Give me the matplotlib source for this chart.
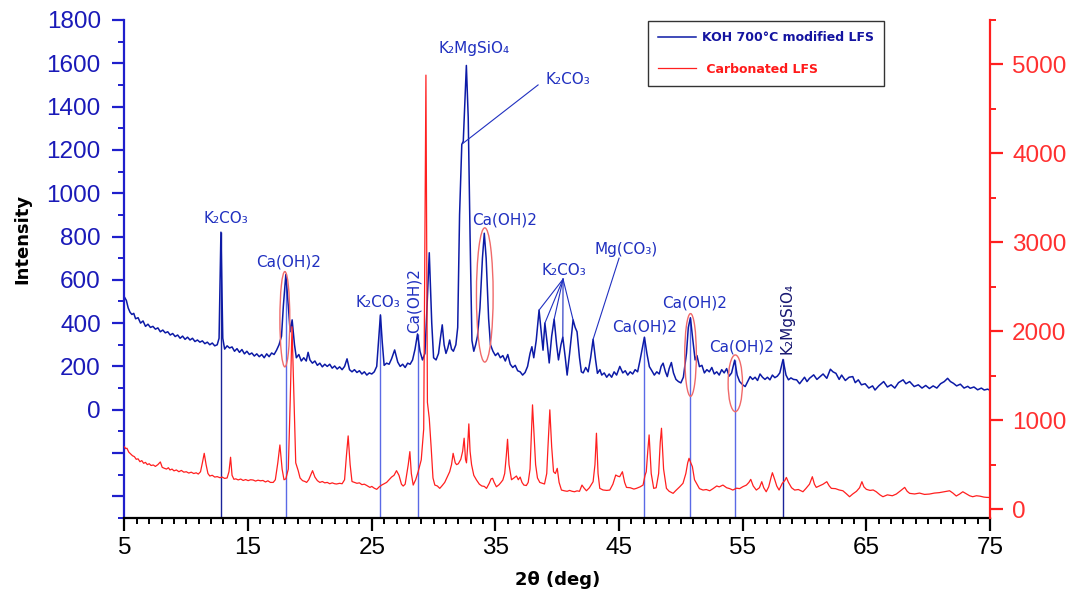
import numpy as np
import matplotlib
matplotlib.use("Agg")
import matplotlib.pyplot as plt
from matplotlib.patches import Ellipse
from matplotlib.ticker import FixedLocator, MultipleLocator, FuncFormatter

# XRD pattern of the KOH 700°C modified LFS (left axis), (2theta, counts)
koh_points = [
    (5.0, 520), (5.15, 505), (5.3, 470), (5.45, 450), (5.6, 440), (5.75, 445), (5.9, 420),
    (6.1, 425), (6.3, 400), (6.5, 410), (6.7, 385), (6.9, 395), (7.1, 380), (7.3, 385),
    (7.5, 372), (7.7, 378), (7.9, 360), (8.1, 368), (8.3, 355), (8.5, 360), (8.7, 345),
    (8.9, 352), (9.1, 338), (9.3, 345), (9.5, 330), (9.7, 340), (9.9, 325), (10.1, 335),
    (10.3, 322), (10.5, 330), (10.7, 315), (10.9, 322), (11.1, 312), (11.3, 318), (11.5, 305),
    (11.7, 312), (11.9, 300), (12.1, 308), (12.3, 295), (12.5, 300), (12.65, 330), (12.8, 820),
    (12.95, 330), (13.1, 280), (13.3, 295), (13.5, 285), (13.7, 290), (13.9, 270), (14.1, 282),
    (14.3, 265), (14.5, 278), (14.7, 258), (14.9, 270), (15.1, 255), (15.3, 262), (15.5, 248),
    (15.7, 258), (15.9, 245), (16.1, 255), (16.3, 240), (16.5, 258), (16.7, 245), (16.9, 262),
    (17.1, 255), (17.3, 275), (17.5, 300), (17.7, 340), (17.85, 480), (18.05, 625), (18.25, 480),
    (18.4, 360), (18.56, 415), (18.75, 300), (18.9, 240), (19.1, 255), (19.3, 225), (19.5, 240),
    (19.7, 225), (19.85, 265), (20.0, 230), (20.2, 215), (20.4, 225), (20.6, 205), (20.8, 215),
    (21.0, 198), (21.2, 210), (21.4, 200), (21.6, 210), (21.8, 192), (22.0, 202), (22.2, 188),
    (22.4, 198), (22.6, 185), (22.8, 200), (23.0, 235), (23.2, 185), (23.4, 175), (23.6, 185),
    (23.8, 172), (24.0, 180), (24.2, 165), (24.4, 175), (24.6, 160), (24.8, 170), (25.0, 165),
    (25.2, 175), (25.4, 200), (25.55, 320), (25.7, 438), (25.85, 310), (26.0, 205), (26.2, 215),
    (26.4, 210), (26.6, 235), (26.85, 276), (27.1, 220), (27.3, 200), (27.5, 210), (27.7, 195),
    (27.9, 215), (28.1, 210), (28.3, 230), (28.5, 280), (28.7, 350), (28.9, 270), (29.1, 230),
    (29.3, 260), (29.45, 450), (29.65, 725), (29.85, 400), (30.0, 240), (30.2, 230), (30.4, 260),
    (30.55, 330), (30.7, 392), (30.85, 300), (31.0, 260), (31.15, 285), (31.3, 322), (31.45, 280),
    (31.6, 270), (31.8, 300), (31.95, 380), (32.1, 900), (32.28, 1225), (32.4, 1240),
    (32.55, 1450), (32.65, 1590), (32.8, 1350), (32.95, 800), (33.1, 320), (33.25, 270),
    (33.4, 300), (33.55, 340), (33.75, 470), (33.95, 700), (34.1, 815), (34.25, 700),
    (34.45, 420), (34.6, 300), (34.8, 270), (35.0, 250), (35.2, 262), (35.4, 240), (35.6, 250),
    (35.8, 225), (36.0, 255), (36.2, 210), (36.4, 195), (36.6, 205), (36.8, 180), (37.0, 175),
    (37.2, 160), (37.4, 172), (37.6, 200), (37.8, 260), (37.95, 291), (38.1, 240), (38.3, 320),
    (38.53, 460), (38.75, 330), (38.85, 275), (39.0, 400), (39.2, 300), (39.35, 216),
    (39.55, 340), (39.75, 418), (39.95, 300), (40.1, 230), (40.3, 300), (40.45, 335),
    (40.65, 240), (40.8, 160), (41.0, 260), (41.28, 415), (41.45, 380), (41.6, 360), (41.8, 240),
    (41.95, 175), (42.1, 170), (42.3, 195), (42.5, 175), (42.7, 240), (42.9, 325), (43.1, 230),
    (43.25, 168), (43.45, 185), (43.6, 160), (43.8, 170), (44.0, 150), (44.2, 165), (44.4, 150),
    (44.6, 175), (44.8, 160), (45.06, 200), (45.3, 170), (45.5, 180), (45.7, 160), (45.9, 175),
    (46.1, 165), (46.3, 185), (46.5, 175), (46.7, 230), (46.9, 290), (47.05, 335), (47.25, 260),
    (47.45, 199), (47.65, 180), (47.85, 160), (48.05, 175), (48.25, 165), (48.4, 200),
    (48.56, 215), (48.75, 175), (48.9, 153), (49.05, 190), (49.23, 218), (49.4, 170),
    (49.6, 140), (49.8, 130), (50.0, 124), (50.2, 150), (50.45, 260), (50.6, 380), (50.77, 425),
    (50.95, 330), (51.15, 230), (51.3, 250), (51.5, 199), (51.7, 205), (51.9, 170), (52.1, 185),
    (52.3, 175), (52.5, 195), (52.7, 165), (52.9, 175), (53.1, 160), (53.3, 185), (53.5, 170),
    (53.7, 190), (53.9, 155), (54.1, 170), (54.35, 229), (54.55, 160), (54.75, 130), (55.0, 115),
    (55.2, 107), (55.4, 130), (55.6, 153), (55.8, 140), (56.0, 150), (56.2, 135), (56.4, 165),
    (56.6, 150), (56.8, 140), (57.0, 150), (57.2, 138), (57.4, 160), (57.6, 148), (57.8, 155),
    (58.0, 170), (58.26, 232), (58.5, 160), (58.7, 138), (58.9, 147), (59.1, 140), (59.36, 138),
    (59.6, 120), (59.8, 135), (60.0, 150), (60.2, 130), (60.4, 145), (60.74, 161), (61.0, 140),
    (61.2, 150), (61.5, 165), (61.8, 145), (62.09, 187), (62.3, 175), (62.54, 168), (62.8, 140),
    (63.0, 160), (63.3, 135), (63.6, 150), (63.9, 153), (64.1, 125), (64.35, 138), (64.6, 115),
    (64.9, 120), (65.2, 100), (65.5, 110), (65.7, 91), (66.0, 110), (66.2, 120), (66.4, 130),
    (66.7, 105), (67.0, 115), (67.3, 100), (67.6, 125), (67.97, 138), (68.2, 120), (68.5, 130),
    (68.87, 107), (69.2, 115), (69.5, 100), (69.8, 112), (70.1, 98), (70.4, 110), (70.7, 100),
    (71.0, 120), (71.3, 130), (71.57, 145), (71.8, 130), (72.04, 122), (72.3, 110), (72.6, 118),
    (72.9, 100), (73.2, 108), (73.4, 99), (73.7, 105), (74.0, 92), (74.3, 100), (74.53, 91),
    (74.8, 95), (75.0, 90),
]

# XRD pattern of the carbonated LFS (right axis), (2theta, counts)
carb_points = [
    (5.0, 700), (5.1, 680), (5.2, 684), (5.35, 640), (5.5, 620), (5.65, 600), (5.8, 590),
    (5.95, 560), (6.1, 565), (6.25, 533), (6.4, 545), (6.55, 515), (6.7, 525), (6.85, 500),
    (7.0, 510), (7.15, 490), (7.33, 496), (7.5, 480), (7.7, 500), (7.9, 530), (8.05, 470),
    (8.2, 460), (8.4, 450), (8.55, 465), (8.68, 440), (8.85, 450), (9.0, 430), (9.2, 440),
    (9.4, 420), (9.6, 435), (9.8, 415), (10.0, 420), (10.2, 405), (10.4, 415), (10.6, 400),
    (10.8, 408), (10.97, 394), (11.15, 420), (11.3, 520), (11.45, 627), (11.6, 500), (11.75, 400),
    (11.9, 372), (12.1, 380), (12.3, 360), (12.5, 365), (12.72, 353), (12.9, 360), (13.1, 345),
    (13.3, 350), (13.45, 420), (13.58, 583), (13.7, 380), (13.85, 335), (14.0, 340), (14.2, 328),
    (14.4, 338), (14.6, 322), (14.8, 332), (15.0, 320), (15.2, 330), (15.4, 327), (15.6, 315),
    (15.8, 325), (16.0, 318), (16.2, 322), (16.4, 305), (16.6, 318), (16.8, 300), (17.03, 300),
    (17.2, 330), (17.4, 520), (17.57, 721), (17.75, 450), (17.9, 330), (18.05, 340), (18.25, 450),
    (18.4, 1200), (18.55, 2050), (18.7, 1300), (18.85, 520), (19.05, 432), (19.2, 350),
    (19.4, 320), (19.6, 310), (19.73, 300), (19.9, 330), (20.05, 380), (20.21, 432), (20.4, 360),
    (20.6, 320), (20.8, 300), (21.0, 310), (21.2, 295), (21.4, 300), (21.6, 285), (21.8, 295),
    (22.0, 285), (22.15, 282), (22.4, 290), (22.6, 285), (22.8, 330), (22.95, 600), (23.09, 823),
    (23.25, 500), (23.4, 310), (23.6, 300), (23.8, 290), (24.0, 295), (24.2, 275), (24.4, 280),
    (24.6, 265), (24.85, 244), (25.0, 255), (25.2, 235), (25.4, 222), (25.6, 250), (25.8, 270),
    (26.0, 285), (26.2, 300), (26.4, 330), (26.6, 360), (26.8, 380), (27.0, 432), (27.2, 380),
    (27.4, 280), (27.54, 259), (27.7, 280), (27.95, 500), (28.08, 646), (28.2, 400), (28.35, 270),
    (28.55, 330), (28.75, 420), (29.0, 553), (29.2, 900), (29.38, 4880), (29.5, 1200),
    (29.65, 1020), (29.8, 700), (29.95, 350), (30.1, 270), (30.3, 260), (30.5, 233), (30.7, 265),
    (30.9, 300), (31.1, 360), (31.3, 420), (31.45, 500), (31.58, 627), (31.75, 520), (31.86, 500),
    (32.0, 510), (32.2, 560), (32.35, 650), (32.47, 797), (32.58, 560), (32.66, 520), (32.75, 700),
    (32.85, 958), (32.95, 650), (33.07, 500), (33.25, 380), (33.47, 327), (33.7, 280),
    (33.9, 260), (34.1, 255), (34.28, 233), (34.5, 290), (34.65, 340), (34.77, 346), (34.9, 300),
    (35.08, 251), (35.3, 275), (35.45, 300), (35.6, 327), (35.75, 400), (35.88, 600),
    (35.98, 785), (36.1, 500), (36.3, 330), (36.5, 350), (36.7, 372), (36.85, 330), (37.0, 360),
    (37.15, 300), (37.3, 270), (37.5, 265), (37.65, 300), (37.8, 450), (37.9, 800), (38.0, 1172),
    (38.1, 900), (38.25, 500), (38.4, 350), (38.59, 300), (38.8, 290), (38.97, 282), (39.15, 400),
    (39.25, 700), (39.4, 1116), (39.55, 700), (39.7, 420), (39.85, 400), (40.0, 458),
    (40.15, 300), (40.34, 214), (40.6, 205), (40.8, 200), (41.0, 210), (41.2, 200), (41.4, 195),
    (41.6, 205), (41.8, 200), (42.0, 270), (42.15, 240), (42.36, 206), (42.6, 240), (42.9, 308),
    (43.05, 500), (43.17, 853), (43.3, 400), (43.44, 233), (43.7, 215), (44.0, 210),
    (44.25, 214), (44.5, 280), (44.73, 383), (44.9, 370), (45.05, 364), (45.27, 420),
    (45.45, 300), (45.6, 244), (45.9, 240), (46.2, 225), (46.4, 233), (46.7, 250), (46.94, 270),
    (47.1, 380), (47.2, 420), (47.32, 650), (47.43, 834), (47.6, 400), (47.8, 233), (48.0, 240),
    (48.2, 400), (48.33, 750), (48.43, 909), (48.6, 450), (48.83, 233), (49.05, 200),
    (49.37, 177), (49.6, 210), (49.9, 250), (50.17, 290), (50.4, 400), (50.55, 520),
    (50.66, 571), (50.8, 520), (50.93, 477), (51.1, 330), (51.26, 290), (51.5, 230),
    (51.79, 214), (52.05, 220), (52.33, 206), (52.6, 230), (52.9, 260), (53.1, 250), (53.4, 270),
    (53.7, 240), (53.95, 230), (54.2, 214), (54.5, 235), (54.75, 230), (55.0, 251), (55.3, 270),
    (55.5, 300), (55.65, 334), (55.85, 260), (56.1, 214), (56.35, 240), (56.54, 308),
    (56.7, 240), (56.9, 195), (57.1, 250), (57.3, 360), (57.4, 409), (57.6, 327), (57.75, 260),
    (57.94, 214), (58.2, 290), (58.4, 320), (58.53, 356), (58.7, 300), (58.95, 240), (59.2, 214),
    (59.5, 220), (59.87, 195), (60.1, 230), (60.4, 280), (60.63, 364), (60.8, 280), (60.95, 244),
    (61.2, 260), (61.5, 280), (61.8, 308), (62.0, 260), (62.17, 233), (62.5, 230), (62.8, 215),
    (63.1, 206), (63.4, 170), (63.64, 139), (63.9, 170), (64.2, 200), (64.45, 240), (64.64, 308),
    (64.8, 250), (65.0, 222), (65.3, 210), (65.55, 215), (65.8, 195), (66.1, 160), (66.34, 139),
    (66.7, 160), (67.1, 150), (67.42, 169), (67.8, 210), (68.1, 244), (68.3, 200), (68.5, 177),
    (68.9, 170), (69.3, 180), (69.7, 165), (70.1, 169), (70.5, 180), (70.9, 185), (71.3, 195),
    (71.73, 206), (72.0, 180), (72.27, 147), (72.55, 170), (72.8, 195), (73.1, 170),
    (73.35, 150), (73.6, 139), (73.9, 150), (74.2, 145), (74.5, 135), (74.7, 132), (75.0, 130),
]

koh_theta, koh_counts = map(np.array, zip(*koh_points))
carb_theta, carb_counts = map(np.array, zip(*carb_points))

# peaks marked with drop lines down to the axis
drop_theta = [12.8, 18.05, 25.7, 28.7, 47.05, 50.77, 54.35, 58.26]
drop_dark = [True, False, False, False, False, False, False, True]

# K2CO3 reflections joined to one label
fan_theta = [38.53, 39.0, 39.75, 40.45, 41.28]

# phase labels: text, 2theta, intensity, rotation
phase_labels = [
    ("K\u2082CO\u2083", 13.2, 881, 0),
    ("Ca(OH)2", 18.3, 680, 0),
    ("K\u2082CO\u2083", 25.5, 493, 0),
    ("Ca(OH)2", 28.45, 505, 90),
    ("K\u2082MgSiO\u2084", 33.3, 1669, 0),
    ("K\u2082CO\u2083", 40.85, 1527, 0),
    ("Ca(OH)2", 35.75, 876, 0),
    ("K\u2082CO\u2083", 40.5, 641, 0),
    ("Mg(CO\u2083)", 45.6, 738, 0),
    ("Ca(OH)2", 47.1, 384, 0),
    ("Ca(OH)2", 51.1, 492, 0),
    ("Ca(OH)2", 54.9, 291, 0),
]

# red rings: centre 2theta, centre intensity, width, height
rings = [
    (17.97, 418, 0.8, 440),
    (34.14, 530, 1.35, 620),
    (50.78, 253, 0.94, 382),
    (54.4, 122, 1.16, 262),
]

blue = "#0c1aa6"
axis_blue = "#1f1fcc"
label_blue = "#2030c0"
red = "#ff1f1f"

plt.rcParams["font.family"] = ["DejaVu Sans"]

fig = plt.figure(figsize=(10.74, 6.0), dpi=100)
ax = fig.add_axes([0.1159, 0.1367, 0.8059, 0.83])
ax2 = ax.twinx()

line_koh, = ax.plot(koh_theta, koh_counts, color=blue, lw=1.1,
                    label="KOH 700\u00b0C modified LFS")
line_carb, = ax2.plot(carb_theta, carb_counts, color=red, lw=0.9,
                      label=" Carbonated LFS")

ax.set_xlim(5, 75)
ax.set_ylim(-500, 1800)
ax2.set_ylim(-100, 5500)

# drop lines from the peak tops
for t, dark in zip(drop_theta, drop_dark):
    top = np.interp(t, koh_theta, koh_counts)
    ax.vlines(t, -500, top, color="#1a2399" if dark else "#5a6ae6", lw=1.0, zorder=1)

# K2CO3 shoulder on the main peak
ax.plot([32.39, 38.45], [1231, 1500], color=label_blue, lw=0.8)
# fan of K2CO3 lines
for t in fan_theta:
    ax.plot([40.47, t], [603, np.interp(t, koh_theta, koh_counts)], color=label_blue, lw=0.8)
# Mg(CO3) pointer
ax.plot([42.9, 45.0], [325, 700], color=label_blue, lw=0.8)

for text, x, y, rot in phase_labels:
    ax.text(x, y, text, color=label_blue, fontsize=11, rotation=rot,
            ha="center", va="center")
ax.text(58.6, 422, "K\u2082MgSiO\u2084", color="#161670", fontsize=11, rotation=90,
        ha="center", va="center")

for cx, cy, w, h in rings:
    ax.add_patch(Ellipse((cx, cy), w, h, fill=False, edgecolor="#f06a6a", lw=1.0, zorder=4))

# axes styling
ax.spines["top"].set_visible(False)
ax2.spines["top"].set_visible(False)
ax2.spines["left"].set_visible(False)
ax2.spines["bottom"].set_visible(False)
ax.spines["right"].set_visible(False)
ax.spines["left"].set_color(axis_blue)
ax.spines["left"].set_linewidth(1.6)
ax.spines["bottom"].set_color("black")
ax.spines["bottom"].set_linewidth(1.6)
ax2.spines["right"].set_color(red)
ax2.spines["right"].set_linewidth(1.6)

tick_font = {"family": "Liberation Sans", "size": 17.5}

ax.xaxis.set_major_locator(FixedLocator(np.arange(5, 76, 10)))
ax.xaxis.set_minor_locator(MultipleLocator(1))
ax.tick_params(axis="x", which="major", direction="out", length=9, width=1.6,
               colors="black", pad=5)
ax.tick_params(axis="x", which="minor", direction="out", length=4, width=1.4, colors="black")

ax.yaxis.set_major_locator(FixedLocator(np.arange(-400, 1801, 200)))
ax.yaxis.set_minor_locator(MultipleLocator(100))
ax.yaxis.set_major_formatter(FuncFormatter(lambda v, p: "" if v < 0 else f"{v:.0f}"))
ax.tick_params(axis="y", which="major", direction="out", length=9, width=1.6,
               colors=axis_blue, pad=8)
ax.tick_params(axis="y", which="minor", direction="out", length=4.5, width=1.4,
               colors=axis_blue)

ax2.yaxis.set_major_locator(FixedLocator(np.arange(0, 5001, 1000)))
ax2.yaxis.set_minor_locator(MultipleLocator(500))
ax2.tick_params(axis="y", which="major", direction="out", length=9, width=1.6,
                colors=red, pad=7)
ax2.tick_params(axis="y", which="minor", direction="out", length=4.5, width=1.4, colors=red)

for lab in ax.get_xticklabels() + ax.get_yticklabels() + ax2.get_yticklabels():
    lab.set_fontfamily(tick_font["family"])
    lab.set_fontsize(tick_font["size"])
ax.tick_params(axis="y", labelcolor="#1a1ab8")
ax2.tick_params(axis="y", labelcolor="#ff3030")

ax.set_xlabel("2\u03b8 (deg)", fontsize=13, fontweight="bold", labelpad=8)
ax.set_ylabel("Intensity", fontsize=13, fontweight="bold")
ax.yaxis.set_label_coords(-0.108, 0.56)

leg = ax2.legend(handles=[line_koh, line_carb], loc="upper left",
                 bbox_to_anchor=(0.605, 0.997), frameon=True, fancybox=False,
                 edgecolor="black", borderaxespad=0, borderpad=0.8, handlelength=3.0,
                 handletextpad=0.5, labelspacing=1.45,
                 prop={"size": 9, "weight": "bold"})
leg.get_frame().set_linewidth(1.0)
leg.get_texts()[0].set_color("#1414a0")
leg.get_texts()[1].set_color("#ff1a1a")

fig.savefig("out.png", dpi=100)
